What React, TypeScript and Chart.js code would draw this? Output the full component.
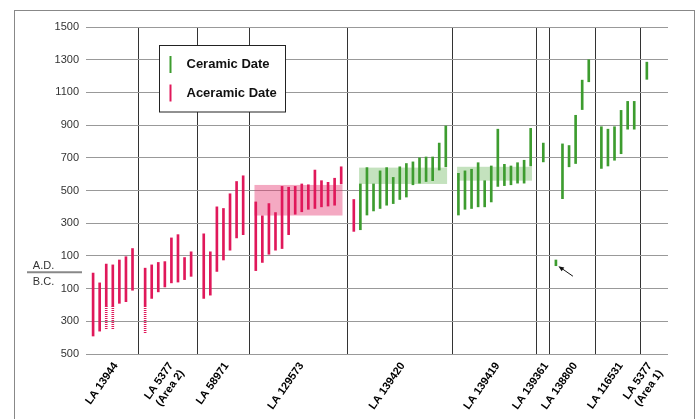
import React, { useEffect, useRef } from "react";
import { Chart, registerables } from "chart.js";

Chart.register(...registerables);

// ---- DATA (years; negative = B.C.) ----
const GROUP_LABELS: (string | string[])[] = [
  "LA 13944",
  ["LA 5377", "(Area 2)"],
  "LA 58971",
  "LA 129573",
  "LA 139420",
  "LA 139419",
  "LA 139361",
  "LA 138800",
  "LA 116531",
  ["LA 5377", "(Area 1)"],
];

// each entry: [low, high, kind ("A" aceramic, "C" ceramic), solidLow?]
// when solidLow is given, low..solidLow is drawn dotted
const LA_13944: any[] = [
  [-390, -5, "A"], [-360, -65, "A"], [-350, 50, "A", -210], [-345, 45, "A", -210],
  [-190, 75, "A"], [-180, 95, "A"], [-110, 145, "A"],
];
const LA_5377_AREA2: any[] = [
  [-370, 25, "A", -205], [-160, 45, "A"], [-120, 60, "A"], [-90, 65, "A"],
  [-65, 210, "A"], [-60, 230, "A"], [-45, 90, "A"], [-25, 125, "A"],
];
const LA_58971: any[] = [
  [-160, 235, "A"], [-140, 125, "A"], [5, 400, "A"], [75, 390, "A"],
  [135, 480, "A"], [210, 555, "A"], [230, 590, "A"],
];
const LA_129573: any[] = [
  [10, 430, "A"], [60, 345, "A"], [110, 420, "A"], [135, 365, "A"], [145, 525, "A"],
  [230, 520, "A"], [355, 525, "A"], [370, 540, "A"], [385, 535, "A"], [390, 625, "A"],
  [400, 560, "A"], [405, 550, "A"], [410, 575, "A"], [540, 645, "A"],
];
const LA_139420: any[] = [
  [250, 445, "A"], [260, 540, "C"], [350, 640, "C"], [375, 540, "C"], [390, 620, "C"],
  [410, 640, "C"], [420, 580, "C"], [445, 645, "C"], [460, 665, "C"], [535, 675, "C"],
  [545, 700, "C"], [555, 705, "C"], [560, 705, "C"], [625, 790, "C"], [645, 895, "C"],
];
const LA_139419: any[] = [
  [350, 605, "C"], [385, 620, "C"], [390, 630, "C"], [400, 670, "C"], [400, 560, "C"],
  [430, 650, "C"], [525, 875, "C"], [530, 660, "C"], [535, 650, "C"], [545, 670, "C"],
  [545, 685, "C"], [650, 880, "C"],
];
const LA_139361: any[] = [[675, 790, "C"]];
const LA_138800: any[] = [
  [40, 75, "C"], [450, 785, "C"], [645, 775, "C"], [665, 960, "C"], [995, 1175, "C"], [1165, 1300, "C"],
];
const LA_116531: any[] = [
  [635, 890, "C"], [650, 875, "C"], [685, 890, "C"], [725, 990, "C"], [875, 1045, "C"], [875, 1045, "C"],
];
const LA_5377_AREA1: any[] = [[1180, 1285, "C"]];

const GROUPS = [
  LA_13944, LA_5377_AREA2, LA_58971, LA_129573, LA_139420,
  LA_139419, LA_139361, LA_138800, LA_116531, LA_5377_AREA1,
];

// shaded bands: [group index, low, high, kind]
const BANDS: [number, number, number, string][] = [
  [3, 347, 534, "A"],
  [4, 540, 640, "C"],
  [5, 560, 645, "C"],
];

// bar pointed at by the arrow: [group index, bar index]
const ARROW_TARGET = [7, 0];

const Y_TICKS = [-500, -300, -100, 100, 300, 500, 700, 900, 1100, 1300, 1500];
const LEGEND_ITEMS = [
  { label: "Ceramic Date", kind: "C" },
  { label: "Aceramic Date", kind: "A" },
];

// ---- STYLE ----
const PINK = "#e0185a";
const GREEN = "#3d9c2f";
const PINK_BAND = "rgba(228, 50, 110, 0.42)";
const GREEN_BAND = "rgba(60, 160, 40, 0.3)";
const FONT = "'Liberation Sans', Arial, Helvetica, sans-serif";
const GROUP_GAP = 0.92;

type Bar = { pos: number; lo: number; hi: number; kind: string; solidLo?: number; g: number; i: number };

function buildBars(): Bar[] {
  const out: Bar[] = [];
  let p = 0;
  GROUPS.forEach((grp, g) => {
    if (g > 0) p += GROUP_GAP;
    grp.forEach((b: any, i: number) => {
      out.push({ pos: p, lo: b[0], hi: b[1], kind: b[2], solidLo: b[3], g, i });
      p += 1;
    });
  });
  return out;
}

export default function App() {
  const ref = useRef<HTMLCanvasElement | null>(null);

  useEffect(() => {
    const canvas = ref.current;
    if (!canvas) return;
    const bars = buildBars();
    const groupPos = GROUPS.map((_, g) => bars.filter((b) => b.g === g).map((b) => b.pos));
    const centers = groupPos.map((ps) => (ps[0] + ps[ps.length - 1]) / 2);
    const seps = groupPos.slice(0, -1).map((ps) => ps[ps.length - 1] + (1 + GROUP_GAP) / 2);
    const xMin = -1.08;
    const xMax = 87.5;

    // dotted pattern
    const pc = document.createElement("canvas");
    pc.width = 2;
    pc.height = 2;
    const pctx = pc.getContext("2d")!;
    pctx.fillStyle = PINK;
    pctx.fillRect(0, 0, 2, 1);
    const pctx2 = canvas.getContext("2d")!;
    const pattern = pctx2.createPattern(pc, "repeat");

    const aceramic = bars.filter((b) => b.kind === "A").map((b) => ({ x: b.pos, y: [b.solidLo ?? b.lo, b.hi] }));
    const ceramic = bars.filter((b) => b.kind === "C").map((b) => ({ x: b.pos, y: [b.solidLo ?? b.lo, b.hi] }));
    const dotted = bars.filter((b) => b.solidLo !== undefined).map((b) => ({ x: b.pos, y: [b.lo, b.solidLo] }));

    const overlay = {
      id: "overlay",
      beforeDatasetsDraw(chart: any) {
        const { ctx, scales } = chart;
        const x = scales.x, y = scales.y;
        ctx.save();
        BANDS.forEach(([g, lo, hi, kind]) => {
          const ps = bars.filter((b) => b.g === g && b.kind === kind).map((b) => b.pos);
          const l = x.getPixelForValue(Math.min(...ps)) - 1.3;
          const r = x.getPixelForValue(Math.max(...ps)) + 1.3;
          const t = y.getPixelForValue(hi);
          const bt = y.getPixelForValue(lo);
          ctx.fillStyle = kind === "A" ? PINK_BAND : GREEN_BAND;
          ctx.fillRect(l, t, r - l, bt - t);
        });
        ctx.restore();
      },
      afterDraw(chart: any) {
        const { ctx, scales } = chart;
        const x = scales.x, y = scales.y;
        ctx.save();
        // outer frame
        ctx.strokeStyle = "#888";
        ctx.lineWidth = 1;
        ctx.strokeRect(14.5, 10.5, 680, 450);
        // A.D. / B.C.
        const y0 = y.getPixelForValue(0);
        ctx.strokeStyle = "#888";
        ctx.lineWidth = 2;
        ctx.beginPath();
        ctx.moveTo(27, y0);
        ctx.lineTo(82, y0);
        ctx.stroke();
        ctx.fillStyle = "#333";
        ctx.font = `11px ${FONT}`;
        ctx.textAlign = "center";
        ctx.textBaseline = "alphabetic";
        ctx.fillText("A.D.", 43.5, y0 - 3);
        ctx.textBaseline = "top";
        ctx.fillText("B.C.", 43.5, y0 + 4);
        // arrow
        const tb = bars.find((b) => b.g === ARROW_TARGET[0] && b.i === ARROW_TARGET[1])!;
        const ax = x.getPixelForValue(tb.pos) + 2.5;
        const ay = y.getPixelForValue(tb.lo) + 0.5;
        const tx = ax + 14.5, ty = ay + 10;
        ctx.strokeStyle = "#111";
        ctx.fillStyle = "#111";
        ctx.lineWidth = 1;
        ctx.beginPath();
        ctx.moveTo(tx, ty);
        ctx.lineTo(ax + 3, ay + 2);
        ctx.stroke();
        const ang = Math.atan2(ay - ty, ax - tx);
        ctx.beginPath();
        ctx.moveTo(ax, ay);
        ctx.lineTo(ax - 6 * Math.cos(ang - 0.4), ay - 6 * Math.sin(ang - 0.4));
        ctx.lineTo(ax - 6 * Math.cos(ang + 0.4), ay - 6 * Math.sin(ang + 0.4));
        ctx.closePath();
        ctx.fill();
        // legend
        ctx.fillStyle = "#fff";
        ctx.fillRect(159.5, 45.5, 126, 66.5);
        ctx.strokeStyle = "#222";
        ctx.lineWidth = 1;
        ctx.strokeRect(159.5, 45.5, 126, 66.5);
        LEGEND_ITEMS.forEach((it, k) => {
          const cy = 64.5 + k * 28.5;
          ctx.strokeStyle = it.kind === "C" ? GREEN : PINK;
          ctx.lineWidth = 2;
          ctx.beginPath();
          ctx.moveTo(170.5, cy - 8.5);
          ctx.lineTo(170.5, cy + 8.5);
          ctx.stroke();
          ctx.fillStyle = "#111";
          ctx.font = `bold 13px ${FONT}`;
          ctx.textAlign = "left";
          ctx.textBaseline = "middle";
          ctx.fillText(it.label, 186.5, cy);
        });
        ctx.restore();
      },
    };

    const chart = new Chart(canvas, {
      type: "bar",
      data: {
        datasets: [
          { label: "Ceramic Date", data: ceramic as any, backgroundColor: GREEN, barThickness: 2, grouped: false },
          { label: "Aceramic Date", data: aceramic as any, backgroundColor: PINK, barThickness: 2, grouped: false },
          { label: "Aceramic Date (dotted)", data: dotted as any, backgroundColor: pattern as any, barThickness: 2, grouped: false },
        ],
      },
      options: {
        animation: false,
        responsive: true,
        maintainAspectRatio: false,
        layout: { padding: { top: 27, right: 31, left: 0, bottom: 0 } },
        plugins: { legend: { display: false }, tooltip: { enabled: false } },
        scales: {
          x: {
            type: "linear",
            position: "bottom",
            offset: false,
            min: xMin,
            max: xMax,
            grid: { display: false, drawTicks: false, offset: false },
            border: { display: false },
            afterBuildTicks: (s: any) => {
              s.ticks = centers.map((v) => ({ value: v }));
            },
            afterFit: (s: any) => {
              s.height = 65;
            },
            ticks: {
              autoSkip: false,
              minRotation: 55,
              maxRotation: 55,
              padding: 6,
              labelOffset: 3,
              color: "#000",
              font: { family: FONT, size: 11, weight: "bold" },
              callback: (_v: any, i: number) => GROUP_LABELS[i] as any,
            },
          },
          sep: {
            type: "linear",
            position: "top",
            offset: false,
            min: xMin,
            max: xMax,
            grid: { color: "#333", lineWidth: 1, drawTicks: false, offset: false },
            border: { display: false },
            ticks: { display: false },
            afterBuildTicks: (s: any) => {
              s.ticks = seps.map((v) => ({ value: v }));
            },
          },
          y: {
            type: "linear",
            min: -500,
            max: 1500,
            grid: { color: "#999", lineWidth: 1, drawTicks: false },
            border: { display: false },
            afterBuildTicks: (s: any) => {
              s.ticks = Y_TICKS.map((v) => ({ value: v }));
            },
            afterFit: (s: any) => {
              s.width = 86;
            },
            ticks: {
              padding: 7,
              color: "#333",
              font: { family: FONT, size: 11 },
              callback: (v: any) => String(Math.abs(Number(v))),
            },
          },
        } as any,
      },
      plugins: [overlay],
    });
    return () => chart.destroy();
  }, []);

  return (
    <div style={{ position: "fixed", left: 0, top: 0, width: 699, height: 419, background: "#fff" }}>
      <canvas ref={ref} />
    </div>
  );
}
